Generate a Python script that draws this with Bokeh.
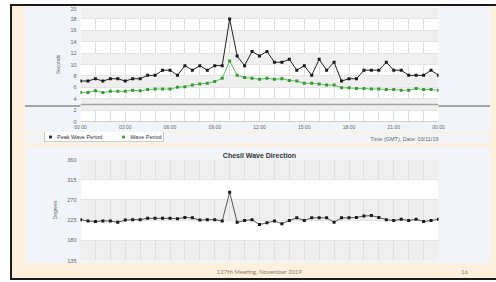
from bokeh.plotting import figure
from bokeh.models import ColumnDataSource, FixedTicker, Span, Label, Legend, LegendItem, Spacer, Range1d
from bokeh.layouts import column, row
from bokeh.embed import file_html
from bokeh.resources import INLINE

# ---------------- data ----------------
times = ["00:00", "00:30", "01:00", "01:30", "02:00", "02:30", "03:00", "03:30",
         "04:00", "04:30", "05:00", "05:30", "06:00", "06:30", "07:00", "07:30",
         "08:00", "08:30", "09:00", "09:30", "10:00", "10:30", "11:00", "11:30",
         "12:00", "12:30", "13:00", "13:30", "14:00", "14:30", "15:00", "15:30",
         "16:00", "16:30", "17:00", "17:30", "18:00", "18:30", "19:00", "19:30",
         "20:00", "20:30", "21:00", "21:30", "22:00", "22:30", "23:00", "23:30",
         "24:00"]

peak_wave_period = [7.1, 7.1, 7.5, 7.1, 7.5, 7.5, 7.1, 7.5, 7.5, 8.1,
                    8.1, 9.0, 9.0, 8.1, 9.8, 9.0, 9.8, 9.0, 9.8, 9.8,
                    18.0, 11.5, 9.8, 12.3, 11.5, 12.3, 10.4, 10.4, 10.9, 9.0,
                    9.8, 8.1, 10.9, 9.0, 10.4, 7.1, 7.5, 7.5, 9.0, 9.0,
                    9.0, 10.4, 9.0, 9.0, 8.1, 8.1, 8.1, 9.0, 8.1]

wave_period = [5.1, 5.1, 5.4, 5.1, 5.3, 5.3, 5.3, 5.5, 5.4, 5.6,
               5.7, 5.7, 5.7, 6.0, 6.1, 6.4, 6.6, 6.7, 7.0, 7.6,
               10.6, 8.1, 7.7, 7.6, 7.4, 7.6, 7.4, 7.5, 7.2, 7.1,
               6.7, 6.7, 6.6, 6.4, 6.4, 5.9, 5.9, 5.8, 5.8, 5.7,
               5.7, 5.6, 5.6, 5.5, 5.5, 5.8, 5.6, 5.6, 5.5]

wave_direction = [226, 223, 222, 223, 223, 220, 225, 226, 226, 229,
                  229, 229, 229, 228, 231, 230, 225, 226, 226, 223,
                  287, 220, 224, 226, 215, 219, 223, 217, 224, 230,
                  224, 230, 230, 230, 220, 230, 230, 231, 234, 235,
                  231, 226, 224, 227, 224, 227, 222, 224, 227]

time_ticks = [0, 3, 6, 9, 12, 15, 18, 21, 24]
time_labels = ["00:00", "03:00", "06:00", "09:00", "12:00", "15:00", "18:00", "21:00", "00:00"]
hour_grid = list(range(0, 25))
seconds_ticks = [0, 2, 4, 6, 8, 10, 12, 14, 16, 18, 20]
degree_ticks = [135, 180, 225, 270, 315, 360]
threshold_seconds = 3

series_names = ["Peak Wave Period", "Wave Period"]
title_text = "Chesil Wave Direction"
time_axis_text = "Time (GMT), Date: 03/11/19"
footer_text = "127th Meeting, November 2019"
page_number = "16"

# ---------------- styles ----------------
CREAM = "#fcf1dc"
PANEL = "#f1f5fa"
BAND = "#efefef"
GRIDC = "#dedede"
TXT = "#666666"
FONT = "Liberation Sans"
BLACK_S = "#1a1a1a"
GREEN_L = "#66bb66"
GREEN_M = "#2e9e2e"

hours = [int(t[:2]) + int(t[3:]) / 60 for t in times]
src = ColumnDataSource(dict(h=hours, pk=peak_wave_period, wp=wave_period, wd=wave_direction))


def style_common(p):
    p.xgrid.ticker = FixedTicker(ticks=hour_grid)
    p.xgrid.grid_line_color = GRIDC
    p.xgrid.grid_line_width = 1
    p.ygrid.grid_line_color = "#e4e4e4"
    for ax in p.yaxis:
        ax.axis_line_color = None
        ax.major_tick_line_color = None
        ax.minor_tick_line_color = None
        ax.major_tick_out = 0
        ax.major_tick_in = 0
        ax.minor_tick_out = 0
        ax.major_label_text_font_size = "5.5px"
        ax.major_label_text_color = TXT
        ax.major_label_text_font = FONT
        ax.major_label_standoff = 4
        ax.axis_label_text_font_size = "5px"
        ax.axis_label_text_font_style = "normal"
        ax.axis_label_text_color = TXT
        ax.axis_label_text_font = FONT
        ax.axis_label_standoff = 6


# ---------------- top chart ----------------
top = figure(width=465, height=126, x_range=(0, 24), y_range=(0, 20),
             output_backend="svg", toolbar_location=None,
             min_border_left=55, min_border_right=52, min_border_top=1, min_border_bottom=9,
             background_fill_color="white", border_fill_color=PANEL, border_fill_alpha=0,
             outline_line_color=None,
             styles={"background": f"linear-gradient(to bottom, {PANEL} 0px, {PANEL} 99px, "
                                   f"#a3a3a3 99px, #a3a3a3 100.6px, {PANEL} 100.6px, {PANEL} 100%)"})
top.yaxis.ticker = FixedTicker(ticks=seconds_ticks)
top.yaxis.axis_label = "Seconds"
top.ygrid.ticker = FixedTicker(ticks=seconds_ticks)
top.ygrid.band_fill_color = BAND
top.ygrid.band_fill_alpha = 1
top.xaxis.ticker = FixedTicker(ticks=time_ticks)
top.xaxis.major_label_overrides = {t: l for t, l in zip(time_ticks, time_labels)}
top.xaxis.axis_line_color = "#d0d0d0"
top.xaxis.major_tick_line_color = None
top.xaxis.minor_tick_line_color = None
top.xaxis.major_tick_out = 0
top.xaxis.major_tick_in = 0
top.xaxis.minor_tick_out = 0
top.xaxis.major_label_text_font_size = "5px"
top.xaxis.major_label_text_color = TXT
top.xaxis.major_label_text_font = FONT
top.xaxis.major_label_standoff = 2
style_common(top)

top.add_layout(Span(location=threshold_seconds, dimension="width", line_color="#a3a3a3", line_width=1.5))

top.line("h", "pk", source=src, line_color="#222222", line_width=1)
top.scatter("h", "pk", source=src, marker="square", size=3, fill_color=BLACK_S, line_color=None)
top.line("h", "wp", source=src, line_color=GREEN_L, line_width=1)
top.scatter("h", "wp", source=src, marker="square", size=3, fill_color=GREEN_M, line_color=None)

# ---------------- legend strip (bottom of the top panel) ----------------
strip = figure(width=465, height=11, x_range=(0, 465), y_range=(0, 11),
               output_backend="svg", toolbar_location=None,
               x_axis_location=None, y_axis_location=None,
               min_border_left=0, min_border_right=0, min_border_top=0, min_border_bottom=0,
               background_fill_color=PANEL, border_fill_color=PANEL, outline_line_color=None)
strip.frame_align = False
strip.grid.visible = False
# the legend's renderers use the real series, mapped onto a range that keeps them out of view
strip.extra_y_ranges = {"hidden": Range1d(1000, 1001)}
lg_pk = strip.scatter("h", "pk", source=src, y_range_name="hidden", marker="square", size=4,
                      fill_color=BLACK_S, line_color=None)
lg_wp = strip.scatter("h", "wp", source=src, y_range_name="hidden", marker="square", size=4,
                      fill_color=GREEN_M, line_color=None)
legend = Legend(items=[LegendItem(label=series_names[0], renderers=[lg_pk]),
                       LegendItem(label=series_names[1], renderers=[lg_wp])],
                location=(19, 1), orientation="horizontal",
                label_text_font_size="5.5px", label_text_color="#333333", label_text_font=FONT,
                glyph_width=8, glyph_height=7, label_height=7, label_standoff=3,
                spacing=17, padding=1, margin=0,
                border_line_color="#999999", border_line_width=1,
                background_fill_color="white", background_fill_alpha=1)
strip.add_layout(legend)
strip.add_layout(Label(x=413, y=6, text=time_axis_text, text_align="right", text_baseline="middle",
                       text_font_size="5.5px", text_color=TXT, text_font=FONT))

# ---------------- bottom chart ----------------
bot = figure(width=465, height=117, x_range=(0, 24), y_range=(135, 360),
             output_backend="svg", toolbar_location=None,
             min_border_left=55, min_border_right=52, min_border_top=13, min_border_bottom=3,
             background_fill_color=BAND, border_fill_color=PANEL,
             outline_line_color=None)
bot.title.text = title_text
bot.title.align = "center"
bot.title.text_font_size = "7px"
bot.title.text_font_style = "bold"
bot.title.text_color = "#333333"
bot.title.text_font = FONT
bot.title.standoff = 2
bot.xaxis.visible = False
bot.yaxis.ticker = FixedTicker(ticks=degree_ticks)
bot.yaxis.axis_label = "Degrees"
bot.ygrid.ticker = FixedTicker(ticks=degree_ticks)
bot.ygrid.band_fill_color = "white"
bot.ygrid.band_fill_alpha = 1
style_common(bot)

bot.line("h", "wd", source=src, line_color="#444444", line_width=0.9)
bot.scatter("h", "wd", source=src, marker="square", size=3, fill_color=BLACK_S, line_color=None)

# ---------------- footer ----------------
foot = figure(width=484, height=15, x_range=(0, 484), y_range=(0, 15),
              output_backend="svg", toolbar_location=None,
              x_axis_location=None, y_axis_location=None,
              min_border_left=0, min_border_right=0, min_border_top=0, min_border_bottom=0,
              background_fill_color=CREAM, border_fill_color=CREAM, outline_line_color=None)
foot.frame_align = False
foot.grid.visible = False
foot.add_layout(Label(x=247, y=7, text=footer_text, text_align="center", text_baseline="middle",
                      text_font_size="6px", text_color="#8c7f70", text_font="Lato"))
foot.add_layout(Label(x=452, y=7, text=page_number, text_align="center", text_baseline="middle",
                      text_font_size="6px", text_color="#8c7f70", text_font="Lato"))

root = column(row(Spacer(width=13, height=137), column(top, strip)),
              Spacer(width=478, height=3),
              row(Spacer(width=13, height=117), bot),
              foot,
              styles={"background-color": CREAM,
                      "border-left": "2px solid #1a1a1a",
                      "border-top": "2px solid #1a1a1a",
                      "border-bottom": "2px solid #1a1a1a",
                      "margin-top": "4px", "margin-left": "10px"})

open("out.html", "w").write(file_html(root, INLINE))
